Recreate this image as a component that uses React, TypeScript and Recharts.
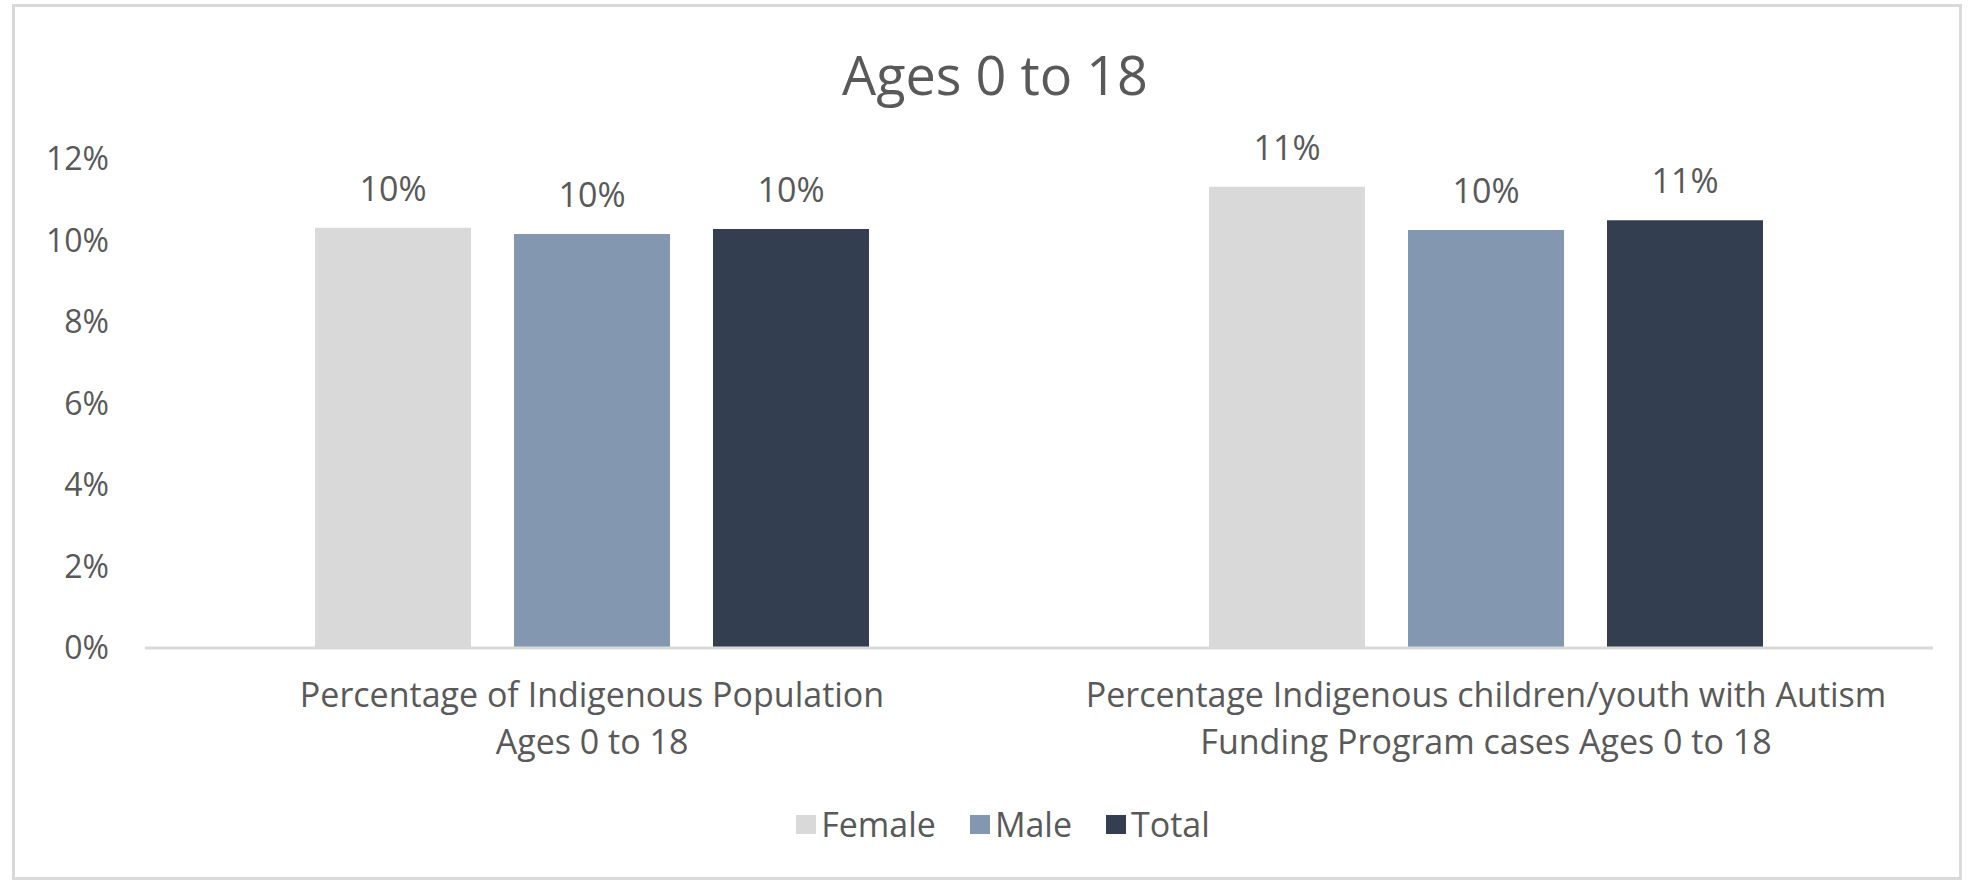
import { Bar, BarChart, LabelList, Legend, XAxis, YAxis } from "recharts";

const categories = [
  "Percentage of Indigenous Population\nAges 0 to 18",
  "Percentage Indigenous children/youth with Autism\nFunding Program cases Ages 0 to 18",
];
const female = [10.31, 11.32];
const male = [10.16, 10.26];
const total = [10.28, 10.5];
const yTicks = [0, 2, 4, 6, 8, 10, 12];

const seriesNames = ["Female", "Male", "Total"];
const seriesColors = ["#D9D9D9", "#8497B0", "#333F50"];

const data = categories.map((name, i) => ({
  name,
  Female: female[i],
  Male: male[i],
  Total: total[i],
}));

const FONT = "'Open Sans', sans-serif";
const TEXT = "#595959";

function CategoryTick(props: any) {
  const { x, y, payload } = props;
  const lines = String(payload.value).split("\n");
  return (
    <text x={x} y={y} textAnchor="middle" fill={TEXT} fontFamily={FONT} fontSize={34}>
      {lines.map((line, i) => (
        <tspan key={i} x={x} dy={i === 0 ? 51 : 47}>
          {line}
        </tspan>
      ))}
    </text>
  );
}

function LegendRow() {
  return (
    <div
      style={{
        display: "flex",
        justifyContent: "center",
        alignItems: "center",
        paddingLeft: 34,
        fontFamily: FONT,
        fontSize: 34,
        color: TEXT,
        lineHeight: "44px",
      }}
    >
      {seriesNames.map((s, i) => (
        <div key={s} style={{ display: "flex", alignItems: "center", marginRight: i < 2 ? 34 : 0 }}>
          <span style={{ width: 20, height: 19, background: seriesColors[i], marginRight: 5 }} />
          <span>{s}</span>
        </div>
      ))}
    </div>
  );
}

export default function App() {
  return (
    <div style={{ position: "absolute", left: 0, top: 0, width: 1972, height: 885, background: "#fff" }}>
      <div
        style={{
          position: "absolute",
          left: 12,
          top: 4,
          width: 1950,
          height: 876,
          border: "3px solid #D9D9D9",
          boxSizing: "border-box",
        }}
      />
      <div
        style={{
          position: "absolute",
          left: 0,
          width: 1990,
          top: 41,
          textAlign: "center",
          fontFamily: FONT,
          fontSize: 54,
          lineHeight: "66px",
          color: TEXT,
        }}
      >
        Ages 0 to 18
      </div>
      <div style={{ position: "absolute", left: 0, top: 0 }}>
        <BarChart
          width={1972}
          height={885}
          data={data}
          margin={{ top: 159, right: 39, bottom: 137, left: 0 }}
          barSize={156}
          barGap={43}
        >
          <XAxis
            dataKey="name"
            axisLine={{ stroke: "#D9D9D9", strokeWidth: 3 }}
            tickLine={false}
            height={100}
            tick={<CategoryTick />}
            interval={0}
          />
          <YAxis
            width={145}
            domain={[0, 12]}
            ticks={yTicks}
            tickFormatter={(v) => `${v}%`}
            axisLine={false}
            tickLine={false}
            tickMargin={30}
            tick={{ fill: TEXT, fontSize: 32, fontFamily: FONT }}
          />
          <Legend
            layout="vertical"
            verticalAlign="middle"
            align="center"
            content={() => <LegendRow />}
            wrapperStyle={{ top: 802, left: 0, width: 1972 }}
          />
          {seriesNames.map((s, i) => (
            <Bar key={s} dataKey={s} fill={seriesColors[i]} isAnimationActive={false}>
              <LabelList
                dataKey={s}
                position="top"
                offset={27}
                formatter={(v: any) => `${Math.round(Number(v))}%`}
                style={{ fill: TEXT, fontSize: 34, fontFamily: FONT }}
              />
            </Bar>
          ))}
        </BarChart>
      </div>
    </div>
  );
}
